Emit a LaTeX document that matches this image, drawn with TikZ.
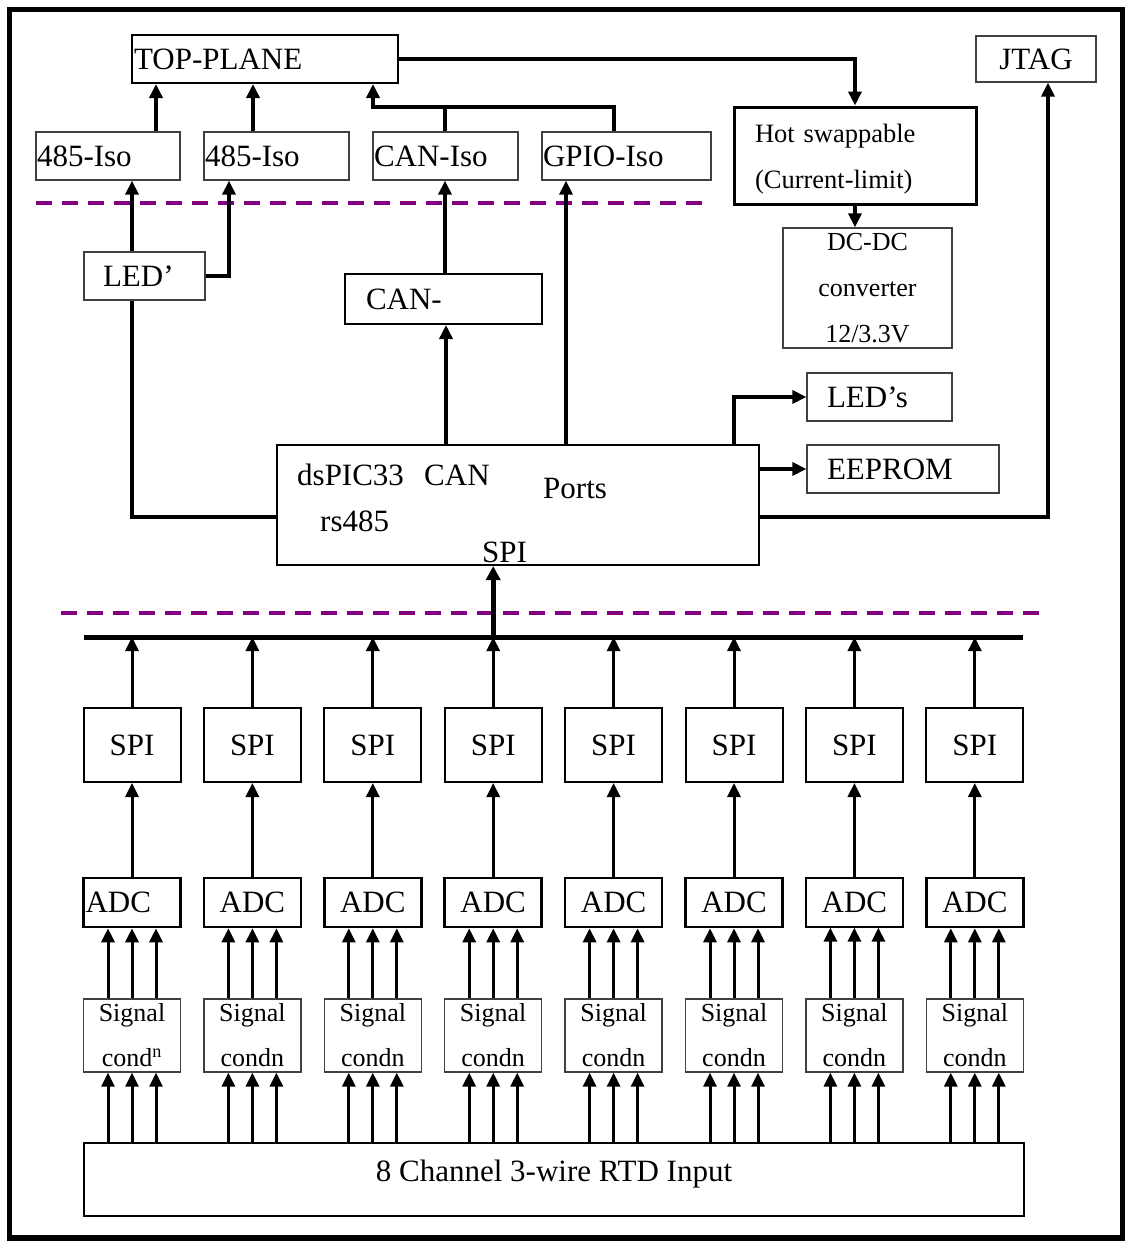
\documentclass[tikz,border=0pt]{standalone}
\usepackage{fontspec}
\setmainfont{Liberation Serif}
\usetikzlibrary{arrows.meta,calc}
\newcommand{\fsBig}{\fontsize{31}{37}\selectfont}
\newcommand{\fsMid}{\fontsize{26.5}{46}\selectfont}
\newcommand{\fsSig}{\fontsize{26}{45}\selectfont}
\newcommand{\fsDC}{\fontsize{26}{46}\selectfont}
\definecolor{sepc}{HTML}{800080}
\definecolor{thinc}{HTML}{404040}
\begin{document}
\begin{tikzpicture}[x=1pt,y=-1pt,
  box/.style={draw, inner sep=0pt, font=\fsBig},
  wh/.style n args={2}{minimum width=#1pt, minimum height=#2pt},
  lt/.style n args={2}{inner xsep=#1pt, text width=#2pt, align=left},
  bxthin/.style={draw=thinc, line width=1.3pt},
  bxmid/.style={draw=black, line width=2pt},
  bxthick/.style={draw=black, line width=2.6pt},
  bxhot/.style={draw=black, line width=3pt},
  bxsig/.style={draw=thinc, line width=1.3pt},
  txt/.style={inner sep=0pt, font=\fsBig},
  arr/.style={line width=3.5pt, -{Triangle[length=14pt,width=13pt]}},
  arrL/.style={line width=3pt, -{Triangle[length=14pt,width=13pt]}},
  wire/.style={line width=3.5pt},
  sepline/.style={draw=sepc, line width=4pt, dash pattern=on 16pt off 10pt},
]
\useasboundingbox (0,0) rectangle (1126,1247);
\fill[white] (0,0) rectangle (1126,1247);
\draw[line width=5.5pt] (9.5,9.5) rectangle (1122.5,1238);

% top area boxes
\node[box, bxmid, wh={266}{48}, lt={2}{262}] (top) at (265,59) {TOP-PLANE};
\node[box, bxthin, wh={120}{46}] (jtag) at (1036,59) {JTAG};
\node[box, bxthin, wh={144}{48}, lt={1}{142}] (iso1) at (108,156) {485-Iso};
\node[box, bxthin, wh={145}{48}, lt={1}{143}] (iso2) at (276.5,156) {485-Iso};
\node[box, bxthin, wh={145}{48}, lt={1}{143}] (caniso) at (445.5,156) {CAN-Iso};
\node[box, bxthin, wh={169}{48}, lt={1}{167}] (gpio) at (626.5,156) {GPIO-Iso};
\node[box, bxhot, wh={242}{97}, lt={21}{200}, font=\fsMid] (hot) at (855,155.5) {\rule{0pt}{26pt}Hot swappable\\(Current-limit)};
\node[box, bxthin, wh={169}{120}, align=center, font=\fsDC] (dcdc) at (867.5,288) {DC-DC\\converter\\12/3.3V};
\node[box, bxthin, wh={121}{48}, lt={19}{83}] (led1) at (144.5,276) {LED’};
\node[box, bxmid, wh={197}{50}, lt={21}{155}] (canm) at (443.5,299) {CAN-};
\node[box, bxthin, wh={145}{48}, lt={20}{105}] (leds) at (879.5,397) {LED’s};
\node[box, bxthin, wh={192}{48}, lt={20}{152}] (eeprom) at (903,469) {EEPROM};

% dsPIC
\node[box, bxmid, wh={482}{120}] (dspic) at (518,505) {};
\node[txt, anchor=base west] (tdspic) at (297,485) {dsPIC33};
\node[txt, anchor=base west] (tcan) at (424,485) {CAN};
\node[txt, anchor=base west] (tports) at (543,498) {Ports};
\node[txt, anchor=base west] (trs) at (320,531) {rs485};
\node[txt, anchor=base west] (tspi) at (482,562) {SPI};

% separators and bus
\coordinate (sepAL) at (36,203);
\coordinate (sepAR) at (703,203);
\coordinate (sepBL) at (61,613);
\coordinate (sepBR) at (1047,613);
\draw[sepline] (sepAL) -- (sepAR);
\draw[sepline] (sepBL) -- (sepBR);
\coordinate (busL) at (84,637);
\coordinate (busR) at (1023,637);
\draw[line width=5pt] (busL) -- (busR);

% channel boxes
\foreach \i in {1,...,8}{
  \pgfmathsetmacro{\cx}{132+(\i-1)*120.4}
  \node[box, bxmid, wh={97}{74}] (spi\i) at (\cx,745) {SPI};
}
\node[box, bxthick, wh={97}{49}, lt={2}{93}] (adc1) at (132,902.5) {ADC};
\foreach \i/\w in {2/2.6,3/2.6,4/2.6,5/2.6,6/2.6,7/1.3,8/2.6}{
  \pgfmathsetmacro{\cx}{132+(\i-1)*120.4}
  \node[box, line width=\w pt, wh={97}{49}] (adc\i) at (\cx,902.5) {ADC};
}
\node[box, bxsig, wh={97}{73}, align=center, font=\fsSig] (sig1) at (132,1035.5) {Signal\\cond\textsuperscript{n}};
\foreach \i in {2,...,8}{
  \pgfmathsetmacro{\cx}{132+(\i-1)*120.4}
  \node[box, bxsig, wh={97}{73}, align=center, font=\fsSig] (sig\i) at (\cx,1035.5) {Signal\\condn};
}
\node[box, bxmid, wh={940}{73}] (rtd) at (554,1179.5) {};
\node[txt, anchor=base] (trtd) at (554,1181) {8 Channel 3-wire RTD Input};

% top connectors
\coordinate (j1) at (373,107);
\draw[arr] (iso1.north -| 156,0) -- (top.south -| 156,0);
\draw[arr] (iso2.north -| 253,0) -- (top.south -| 253,0);
\draw[arr] (caniso.north -| 445,0) |- (j1) -- (j1 |- top.south);
\draw[wire] (gpio.north -| 614,0) |- (j1);
\draw[arr] (top.east) -| (hot.north);
\draw[arr] (hot.south) -- (hot.south |- dcdc.north);
\draw[arr] (led1.north -| 132,0) -- (iso1.south -| 132,0);
\draw[arr] (led1.east) -| (iso2.south -| 229,0);
\draw[wire] (dspic.west |- 0,517) -| (led1.south -| 132,0);
\draw[arr] (canm.north -| 445,0) -- (caniso.south -| 445,0);
\draw[arr] (dspic.north -| 446,0) -- (canm.south -| 446,0);
\draw[arr] (dspic.north -| 566,0) -- (gpio.south -| 566,0);
\draw[arr] (dspic.north -| 734,0) |- (leds.west);
\draw[arr] (dspic.east |- eeprom.west) -- (eeprom.west);
\draw[arr] (dspic.east |- 0,517) -| (jtag.south -| 1048,0);
\draw[line width=5pt, -{Triangle[length=14pt,width=14pt]}] (spi4.north |- busL) -- (spi4.north |- dspic.south);

% channel connectors
\foreach \i in {1,...,8}{
  \draw[arrL] (spi\i.north) -- (spi\i.north |- busL);
  \draw[arrL] (adc\i.north) -- (spi\i.south);
  \foreach \o in {-24,0,24}{
    \draw[arrL] ($(sig\i.north)+(\o,0)$) -- ($(adc\i.south)+(\o,0)$);
    \draw[arrL] ($(sig\i.south |- rtd.north)+(\o,0)$) -- ($(sig\i.south)+(\o,0)$);
  }
}
\end{tikzpicture}
\end{document}
